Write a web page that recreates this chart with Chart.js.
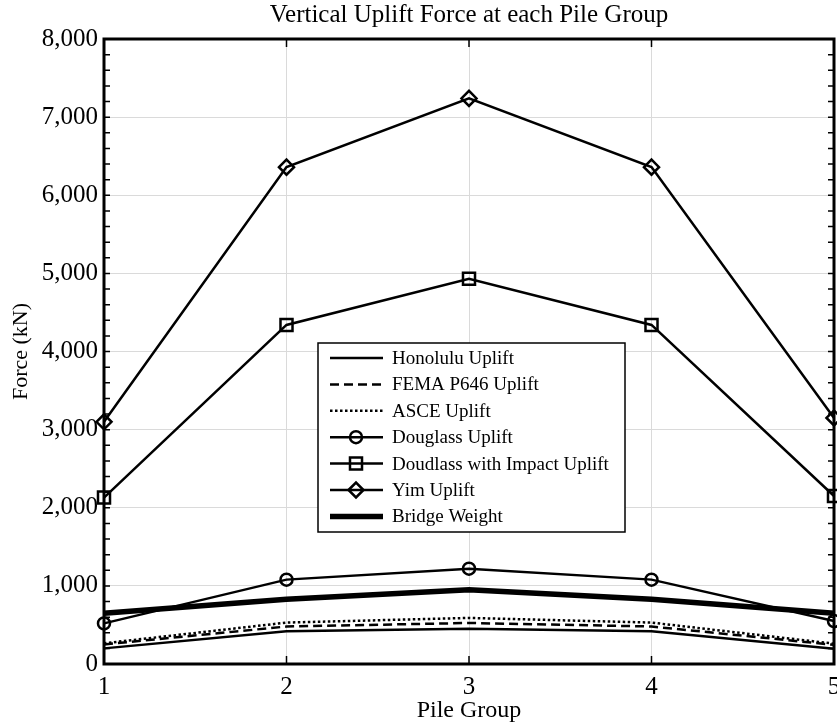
<!DOCTYPE html>
<html lang="en">
<head>
  <meta charset="UTF-8">
  <title>Vertical Uplift Force at each Pile Group</title>
  <script src="https://cdn.jsdelivr.net/npm/chart.js"></script>
  <style>
    html, body { margin: 0; padding: 0; background: #fff; }
    #wrap { width: 837px; height: 725px; }
  </style>
</head>
<body>
  <div id="wrap"><canvas id="upliftChart"></canvas></div>

  <script>
    // Pile groups along the bridge
    const pileGroups = ['1', '2', '3', '4', '5'];

    // Uplift forces (kN) per method
    const honoluluUplift = [200, 420, 450, 420, 195];
    const femaUplift = [250, 480, 525, 480, 245];
    const asceUplift = [265, 530, 590, 530, 260];
    const douglassUplift = [520, 1080, 1220, 1080, 550];
    const douglassImpactUplift = [2130, 4340, 4930, 4340, 2150];
    const yimUplift = [3100, 6360, 7240, 6360, 3150];
    const bridgeWeight = [650, 830, 950, 830, 650];

    // Force axis
    const forceMin = 0;
    const forceMax = 8000;
    const forceStep = 1000;

    const serif = "'Liberation Serif', 'Times New Roman', serif";

    function series(label, data, extra) {
      return Object.assign({
        label: label,
        data: data,
        borderColor: '#000',
        borderWidth: 2.5,
        pointRadius: 0,
        pointStyle: 'circle',
        pointBorderColor: '#000',
        pointBackgroundColor: 'rgba(0,0,0,0)',
        pointBorderWidth: 2.5,
        fill: false,
        clip: false,
        tension: 0
      }, extra || {});
    }

    // box frame, inward tick marks and the legend drawn inside the plot
    const frameAndLegend = {
      id: 'frameAndLegend',
      afterDraw(chart) {
        const ctx = chart.ctx;
        const a = chart.chartArea;
        const x = chart.scales.x;
        const y = chart.scales.y;
        ctx.save();
        ctx.strokeStyle = '#000';
        ctx.setLineDash([]);

        ctx.lineWidth = 1.5;
        for (let v = forceMin; v <= forceMax; v += forceStep / 5) {
          const py = y.getPixelForValue(v);
          ctx.beginPath();
          ctx.moveTo(a.left, py); ctx.lineTo(a.left + 6, py);
          ctx.moveTo(a.right, py); ctx.lineTo(a.right - 6, py);
          ctx.stroke();
        }
        pileGroups.forEach((g, i) => {
          const px = x.getPixelForValue(i);
          ctx.beginPath();
          ctx.moveTo(px, a.top); ctx.lineTo(px, a.top + 8);
          ctx.moveTo(px, a.bottom); ctx.lineTo(px, a.bottom - 8);
          ctx.stroke();
        });

        ctx.lineWidth = 3;
        ctx.strokeRect(a.left, a.top, a.right - a.left, a.bottom - a.top);

        // legend box
        const lx = a.left + 214, ly = a.top + 304, lw = 307, lh = 189;
        ctx.fillStyle = '#fff';
        ctx.fillRect(lx, ly, lw, lh);
        ctx.lineWidth = 1.5;
        ctx.strokeRect(lx, ly, lw, lh);

        ctx.font = '19px ' + serif;
        ctx.textBaseline = 'middle';
        ctx.textAlign = 'left';
        chart.data.datasets.forEach((ds, i) => {
          const ry = ly + 15 + i * 26.4;
          ctx.strokeStyle = '#000';
          ctx.lineWidth = ds.borderWidth;
          ctx.setLineDash(ds.borderDash || []);
          ctx.beginPath();
          ctx.moveTo(lx + 12, ry);
          ctx.lineTo(lx + 65, ry);
          ctx.stroke();
          ctx.setLineDash([]);
          if (ds.pointRadius > 0) {
            ctx.fillStyle = 'rgba(0,0,0,0)';
            ctx.lineWidth = ds.pointBorderWidth;
            Chart.helpers.drawPoint(ctx, {
              pointStyle: ds.pointStyle,
              radius: ds.pointRadius,
              rotation: 0,
              borderWidth: ds.pointBorderWidth
            }, lx + 38, ry);
          }
          ctx.fillStyle = '#000';
          ctx.fillText(ds.label, lx + 74, ry + 1);
        });
        ctx.restore();
      }
    };

    const ctx = document.getElementById('upliftChart').getContext('2d');
    new Chart(ctx, {
      type: 'line',
      data: {
        labels: pileGroups,
        datasets: [
          series('Honolulu Uplift', honoluluUplift),
          series('FEMA P646 Uplift', femaUplift, { borderDash: [9, 5] }),
          series('ASCE Uplift', asceUplift, { borderDash: [2.5, 2.5] }),
          series('Douglass Uplift', douglassUplift, { pointRadius: 6 }),
          series('Doudlass with Impact Uplift', douglassImpactUplift, { pointRadius: 8.5, pointStyle: 'rect' }),
          series('Yim Uplift', yimUplift, { pointRadius: 7.5, pointStyle: 'rectRot' }),
          series('Bridge Weight', bridgeWeight, { borderWidth: 5.5 })
        ]
      },
      options: {
        responsive: true,
        maintainAspectRatio: false,
        animation: false,
        layout: { autoPadding: false, padding: { top: 0, right: 3, bottom: 0, left: 0 } },
        plugins: {
          legend: { display: false },
          tooltip: { enabled: false },
          title: {
            display: true,
            fullSize: false,
            text: 'Vertical Uplift Force at each Pile Group',
            color: '#000',
            font: { family: serif, size: 25, weight: 'normal', lineHeight: 1.2 },
            padding: { top: 0, bottom: 9 }
          }
        },
        scales: {
          x: {
            type: 'category',
            offset: false,
            grid: { color: '#dadada', lineWidth: 1, drawTicks: false },
            border: { display: false },
            ticks: {
              color: '#000',
              padding: 8,
              maxRotation: 0,
              font: { family: serif, size: 25 }
            },
            title: {
              display: true,
              text: 'Pile Group',
              color: '#000',
              font: { family: serif, size: 24 },
              padding: { top: 0, bottom: 0 }
            },
            afterFit(scale) {
              scale.height = 61;
              scale.paddingLeft = 0;
              scale.paddingRight = 0;
            }
          },
          y: {
            min: forceMin,
            max: forceMax,
            grid: { color: '#dadada', lineWidth: 1, drawTicks: false },
            border: { display: false },
            ticks: {
              stepSize: forceStep,
              color: '#000',
              padding: 6,
              font: { family: serif, size: 25 },
              callback: v => v.toLocaleString('en-US')
            },
            title: {
              display: true,
              text: 'Force (kN)',
              color: '#000',
              font: { family: serif, size: 22 },
              padding: { top: 8, bottom: 0 }
            },
            afterFit(scale) {
              scale.width = 104;
            }
          }
        }
      },
      plugins: [frameAndLegend]
    });
  </script>
</body>
</html>
